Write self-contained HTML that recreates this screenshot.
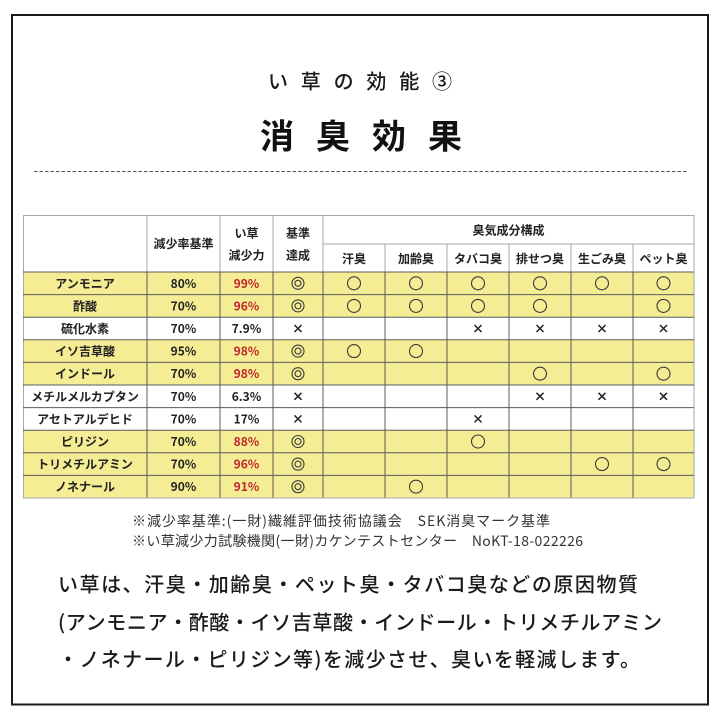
<!DOCTYPE html>
<html>
<head>
<meta charset="utf-8">
<style>
html,body{margin:0;padding:0;background:#fff;}
svg{display:block;}
text{font-family:"Liberation Sans","Noto Sans CJK JP",sans-serif;}
.jp{font-family:"Noto Sans CJK JP","Liberation Sans",sans-serif;}
</style>
</head>
<body>
<svg width="720" height="720" viewBox="0 0 720 720" xmlns="http://www.w3.org/2000/svg">
<rect x="0" y="0" width="720" height="720" fill="#fff"/>
<rect x="12" y="15" width="696" height="689.5" fill="none" stroke="#1a1a1a" stroke-width="2"/>

<!-- Titles -->
<text class="jp" x="268" y="80" font-size="20" font-weight="500" fill="#1a1a1a" dominant-baseline="central" textLength="184" lengthAdjust="spacing">い草の効能③</text>
<text class="jp" x="260" y="134" font-size="34" font-weight="700" fill="#111" dominant-baseline="central" textLength="202" lengthAdjust="spacing">消臭効果</text>
<line x1="34" y1="171.5" x2="688" y2="171.5" stroke="#555" stroke-width="1" stroke-dasharray="3.5 2"/>

<!-- Table fills -->
<g fill="#f4ed93">
<rect x="23" y="272" width="671" height="45.2"/>
<rect x="23" y="339.8" width="671" height="45.2"/>
<rect x="23" y="430.2" width="671" height="67.8"/>
</g>

<!-- Header lines (light) -->
<g stroke="#a8a8a8" stroke-width="1" fill="none">
<rect x="23.5" y="215.5" width="670.5" height="282.5"/>
<line x1="323" y1="244" x2="694" y2="244"/>
<line x1="147" y1="215" x2="147" y2="272"/>
<line x1="220" y1="215" x2="220" y2="272"/>
<line x1="273" y1="215" x2="273" y2="272"/>
<line x1="323" y1="215" x2="323" y2="272"/>
<line x1="385" y1="244" x2="385" y2="272"/>
<line x1="447" y1="244" x2="447" y2="272"/>
<line x1="509" y1="244" x2="509" y2="272"/>
<line x1="571" y1="244" x2="571" y2="272"/>
<line x1="633" y1="244" x2="633" y2="272"/>
</g>
<!-- Body lines (dark) -->
<g stroke="#5c5c5c" stroke-width="1" fill="none">
<line x1="23" y1="272" x2="694" y2="272"/>
<line x1="23" y1="294.6" x2="694" y2="294.6"/>
<line x1="23" y1="317.2" x2="694" y2="317.2"/>
<line x1="23" y1="339.8" x2="694" y2="339.8"/>
<line x1="23" y1="362.4" x2="694" y2="362.4"/>
<line x1="23" y1="385" x2="694" y2="385"/>
<line x1="23" y1="407.6" x2="694" y2="407.6"/>
<line x1="23" y1="430.2" x2="694" y2="430.2"/>
<line x1="23" y1="452.8" x2="694" y2="452.8"/>
<line x1="23" y1="475.4" x2="694" y2="475.4"/>
<line x1="147" y1="272" x2="147" y2="498"/>
<line x1="220" y1="272" x2="220" y2="498"/>
<line x1="273" y1="272" x2="273" y2="498"/>
<line x1="323" y1="272" x2="323" y2="498"/>
<line x1="385" y1="272" x2="385" y2="498"/>
<line x1="447" y1="272" x2="447" y2="498"/>
<line x1="509" y1="272" x2="509" y2="498"/>
<line x1="571" y1="272" x2="571" y2="498"/>
<line x1="633" y1="272" x2="633" y2="498"/>
</g>
<g stroke="#a8a8a8" stroke-width="1"><line x1="23" y1="498" x2="694" y2="498"/></g>

<!-- Header text -->
<g class="jp" font-size="12" font-weight="700" fill="#222" text-anchor="middle" dominant-baseline="central">
<text class="jp" x="183.5" y="243.5">減少率基準</text>
<text class="jp" x="246.5" y="233">い草</text>
<text class="jp" x="246.5" y="255">減少力</text>
<text class="jp" x="298" y="233">基準</text>
<text class="jp" x="298" y="255">達成</text>
<text class="jp" x="508.5" y="230">臭気成分構成</text>
<text class="jp" x="354" y="258.5">汗臭</text>
<text class="jp" x="416" y="258.5">加齢臭</text>
<text class="jp" x="478" y="258.5">タバコ臭</text>
<text class="jp" x="540" y="258.5">排せつ臭</text>
<text class="jp" x="602" y="258.5">生ごみ臭</text>
<text class="jp" x="663.5" y="258.5">ペット臭</text>
</g>

<!-- Body text -->
<g class="jp" font-size="12" font-weight="700" fill="#222" text-anchor="middle" dominant-baseline="central">
<text class="jp" x="85" y="283.3">アンモニア</text>
<text class="jp" x="85" y="305.9">酢酸</text>
<text class="jp" x="85" y="328.5">硫化水素</text>
<text class="jp" x="85" y="351.1">イソ吉草酸</text>
<text class="jp" x="85" y="373.7">インドール</text>
<text class="jp" x="85" y="396.3">メチルメルカプタン</text>
<text class="jp" x="85" y="418.9">アセトアルデヒド</text>
<text class="jp" x="85" y="441.5">ピリジン</text>
<text class="jp" x="85" y="464.1">トリメチルアミン</text>
<text class="jp" x="85" y="486.7">ノネナール</text>

<text class="jp" x="183.5" y="283.3">80%</text>
<text class="jp" x="183.5" y="305.9">70%</text>
<text class="jp" x="183.5" y="328.5">70%</text>
<text class="jp" x="183.5" y="351.1">95%</text>
<text class="jp" x="183.5" y="373.7">70%</text>
<text class="jp" x="183.5" y="396.3">70%</text>
<text class="jp" x="183.5" y="418.9">70%</text>
<text class="jp" x="183.5" y="441.5">70%</text>
<text class="jp" x="183.5" y="464.1">70%</text>
<text class="jp" x="183.5" y="486.7">90%</text>

<text class="jp" x="246.5" y="283.3" fill="#c0262c">99%</text>
<text class="jp" x="246.5" y="305.9" fill="#c0262c">96%</text>
<text class="jp" x="246.5" y="328.5">7.9%</text>
<text class="jp" x="246.5" y="351.1" fill="#c0262c">98%</text>
<text class="jp" x="246.5" y="373.7" fill="#c0262c">98%</text>
<text class="jp" x="246.5" y="396.3">6.3%</text>
<text class="jp" x="246.5" y="418.9">17%</text>
<text class="jp" x="246.5" y="441.5" fill="#c0262c">88%</text>
<text class="jp" x="246.5" y="464.1" fill="#c0262c">96%</text>
<text class="jp" x="246.5" y="486.7" fill="#c0262c">91%</text>
</g>

<!-- Double circles -->
<g fill="none" stroke="#3a3a3a" stroke-width="1.1">
<circle cx="298" cy="283.3" r="6"/><circle cx="298" cy="283.3" r="3"/>
<circle cx="298" cy="305.9" r="6"/><circle cx="298" cy="305.9" r="3"/>
<circle cx="298" cy="351.1" r="6"/><circle cx="298" cy="351.1" r="3"/>
<circle cx="298" cy="373.7" r="6"/><circle cx="298" cy="373.7" r="3"/>
<circle cx="298" cy="441.5" r="6"/><circle cx="298" cy="441.5" r="3"/>
<circle cx="298" cy="464.1" r="6"/><circle cx="298" cy="464.1" r="3"/>
<circle cx="298" cy="486.7" r="6"/><circle cx="298" cy="486.7" r="3"/>
</g>

<!-- Single circles -->
<g fill="none" stroke="#3a3a3a" stroke-width="1.1">
<circle cx="354" cy="283.3" r="6.5"/>
<circle cx="416" cy="283.3" r="6.5"/>
<circle cx="478" cy="283.3" r="6.5"/>
<circle cx="540" cy="283.3" r="6.5"/>
<circle cx="602" cy="283.3" r="6.5"/>
<circle cx="663.5" cy="283.3" r="6.5"/>

<circle cx="354" cy="305.9" r="6.5"/>
<circle cx="416" cy="305.9" r="6.5"/>
<circle cx="478" cy="305.9" r="6.5"/>
<circle cx="540" cy="305.9" r="6.5"/>
<circle cx="663.5" cy="305.9" r="6.5"/>

<circle cx="354" cy="351.1" r="6.5"/>
<circle cx="416" cy="351.1" r="6.5"/>

<circle cx="540" cy="373.7" r="6.5"/>
<circle cx="663.5" cy="373.7" r="6.5"/>

<circle cx="478" cy="441.5" r="6.5"/>

<circle cx="602" cy="464.1" r="6.5"/>
<circle cx="663.5" cy="464.1" r="6.5"/>

<circle cx="416" cy="486.7" r="6.5"/>
</g>

<!-- Crosses -->
<g stroke="#222" stroke-width="1.5" stroke-linecap="butt">
<path d="M294.5 325 L301.5 332 M301.5 325 L294.5 332"/>
<path d="M294.5 392.8 L301.5 399.8 M301.5 392.8 L294.5 399.8"/>
<path d="M294.5 415.4 L301.5 422.4 M301.5 415.4 L294.5 422.4"/>

<path d="M474.5 325 L481.5 332 M481.5 325 L474.5 332"/>
<path d="M536.5 325 L543.5 332 M543.5 325 L536.5 332"/>
<path d="M598.5 325 L605.5 332 M605.5 325 L598.5 332"/>
<path d="M660 325 L667 332 M667 325 L660 332"/>

<path d="M536.5 392.8 L543.5 399.8 M543.5 392.8 L536.5 399.8"/>
<path d="M598.5 392.8 L605.5 399.8 M605.5 392.8 L598.5 399.8"/>
<path d="M660 392.8 L667 399.8 M667 392.8 L660 399.8"/>

<path d="M474.5 415.4 L481.5 422.4 M481.5 415.4 L474.5 422.4"/>
</g>

<!-- Footnotes -->
<text class="jp" x="132" y="521" font-size="14" fill="#333" dominant-baseline="central" textLength="418" lengthAdjust="spacing">※減少率基準:(一財)繊維評価技術協議会　SEK消臭マーク基準</text>
<text class="jp" x="132" y="541" font-size="14" fill="#333" dominant-baseline="central" textLength="451" lengthAdjust="spacing">※い草減少力試験機関(一財)カケンテストセンター　NoKT-18-022226</text>

<!-- Bottom text -->
<g class="jp" font-size="20" font-weight="500" fill="#1a1a1a" dominant-baseline="central">
<text class="jp" x="58" y="583" textLength="580" lengthAdjust="spacing">い草は、汗臭・加齢臭・ペット臭・タバコ臭などの原因物質</text>
<text class="jp" x="58" y="621" textLength="604" lengthAdjust="spacing">(アンモニア・酢酸・イソ吉草酸・インドール・トリメチルアミン</text>
<text class="jp" x="58" y="658" textLength="582" lengthAdjust="spacing">・ノネナール・ピリジン等)を減少させ、臭いを軽減します。</text>
</g>
</svg>
</body>
</html>
